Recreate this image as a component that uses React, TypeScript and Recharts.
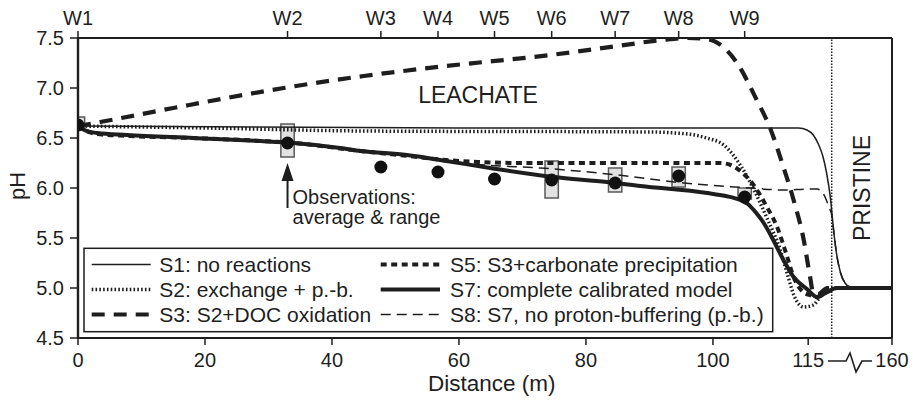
import React from 'react';
import {
  ComposedChart,
  Line,
  Scatter,
  XAxis,
  YAxis,
  ReferenceArea,
  ReferenceLine,
  ReferenceDot,
} from 'recharts';

const FONT = '"Liberation Sans", Arial, Helvetica, sans-serif';
const INK = '#1e1e1e';

// ---------- axes ----------
const distDomain = [0, 128.2];
const distTicks = [0, 20, 40, 60, 80, 100, 115, 128.2];
const distTickLabels = ['0', '20', '40', '60', '80', '100', '115', '160'];
const phTicks = [4.5, 5.0, 5.5, 6.0, 6.5, 7.0, 7.5];
const wellDist = [0, 33, 47.7, 56.7, 65.6, 74.6, 84.6, 94.6, 105];
const wellNames = ['W1', 'W2', 'W3', 'W4', 'W5', 'W6', 'W7', 'W8', 'W9'];
const leachateBoundary = 118.7;

// ---------- observations ----------
const obsDist = [0, 33, 47.7, 56.7, 65.6, 74.6, 84.6, 94.6, 105];
const obsPH = [6.63, 6.45, 6.21, 6.16, 6.09, 6.08, 6.05, 6.12, 5.91];
const rangeDist = [0, 33, 74.6, 84.6, 94.6, 105];
const rangeLow = [6.6, 6.31, 5.9, 5.96, 6.01, 5.89];
const rangeHigh = [6.71, 6.64, 6.27, 6.2, 6.21, 6.0];
const boxHalf = 1.05;

// ---------- model series ----------
const s1Dist = [0, 60, 110, 113.5, 114.8, 115.8, 116.6, 117.3, 117.9, 118.5, 119.0, 119.5, 120.1, 120.8, 121.6, 122.8, 128.2];
const s1PH = [6.62, 6.6, 6.6, 6.6, 6.58, 6.53, 6.44, 6.32, 6.15, 5.9, 5.58, 5.33, 5.15, 5.05, 5.01, 5.0, 5.0];

const s2Dist = [0, 20, 45, 90, 96, 99, 101.7, 104.3, 106.4, 108.5, 110.6, 111.8, 112.8, 114.3, 115.8, 117.2, 118.3, 128.2];
const s2PH = [6.62, 6.6, 6.57, 6.56, 6.54, 6.5, 6.43, 6.23, 5.99, 5.7, 5.38, 5.12, 4.92, 4.81, 4.83, 4.94, 5.0, 5.0];

const s3Dist = [0, 3.5, 15, 32.4, 45, 58, 74.4, 85, 92, 96, 99, 101, 103.8, 106.9, 109, 111.1, 112.7, 114.3, 115.3, 115.8, 116.6, 118, 128.2];
const s3PH = [6.62, 6.66, 6.8, 7.0, 7.12, 7.22, 7.33, 7.42, 7.48, 7.5, 7.49, 7.44, 7.25, 6.88, 6.6, 6.21, 5.88, 5.48, 5.11, 4.95, 4.94, 5.0, 5.0];

const s5Dist = [0, 1, 3, 8, 18, 29, 34, 44.5, 52, 58, 63, 70, 101, 102.8, 104.5, 106.4, 108.5, 110.1, 111.7, 112.7, 114.2, 115.2, 116.4, 118, 119.5, 128.2];
const s5PH = [6.62, 6.58, 6.54, 6.52, 6.5, 6.47, 6.45, 6.37, 6.32, 6.28, 6.26, 6.25, 6.25, 6.23, 6.16, 6.03, 5.81, 5.61, 5.31, 5.11, 4.96, 4.93, 4.91, 4.96, 5.0, 5.0];

const s7Dist = [0, 1, 3, 7.7, 18.2, 28.7, 34, 41.3, 44.5, 51.8, 58, 64.9, 74.9, 83.3, 88.6, 99.1, 102, 104.3, 105.5, 106.7, 108, 109.5, 111.1, 112.7, 114.8, 116.4, 118, 119.5, 128.2];
const s7PH = [6.62, 6.58, 6.55, 6.53, 6.5, 6.47, 6.45, 6.4, 6.37, 6.33, 6.27, 6.2, 6.11, 6.06, 6.02, 5.95, 5.92, 5.88, 5.84, 5.76, 5.65, 5.48, 5.28, 5.11, 4.99, 4.91, 4.96, 5.0, 5.0];

const s8Dist = [0, 1, 3, 7.7, 18.2, 28.7, 34, 41.3, 51.8, 58, 64, 72.8, 85, 95.4, 105.9, 111.1, 115.3, 116.4, 117.4, 118.2, 118.8, 119.0, 119.5, 120.1, 120.8, 121.6, 122.8, 128.2];
const s8PH = [6.62, 6.58, 6.55, 6.53, 6.5, 6.47, 6.45, 6.4, 6.33, 6.27, 6.23, 6.2, 6.13, 6.05, 6.0, 5.98, 5.99, 5.99, 5.94, 5.82, 5.7, 5.58, 5.33, 5.15, 5.05, 5.01, 5.0, 5.0];

const seriesNames = [
  'S1: no reactions',
  'S2: exchange + p.-b.',
  'S3: S2+DOC oxidation',
  'S5: S3+carbonate precipitation',
  'S7: complete calibrated model',
  'S8: S7, no proton-buffering (p.-b.)',
];

const zip = (d: number[], p: number[]) => d.map((x, i) => ({ d: x, ph: p[i] }));

const styles: Record<string, { w: number; dash?: string }> = {
  S1: { w: 1.5 },
  S2: { w: 3.5, dash: '1.6 2.2' },
  S3: { w: 4.2, dash: '13 9' },
  S5: { w: 4, dash: '6 4.5' },
  S7: { w: 4 },
  S8: { w: 1.5, dash: '10 6' },
};

const series = [
  { key: 'S1', data: zip(s1Dist, s1PH), name: seriesNames[0] },
  { key: 'S2', data: zip(s2Dist, s2PH), name: seriesNames[1] },
  { key: 'S3', data: zip(s3Dist, s3PH), name: seriesNames[2] },
  { key: 'S5', data: zip(s5Dist, s5PH), name: seriesNames[3] },
  { key: 'S8', data: zip(s8Dist, s8PH), name: seriesNames[5] },
  { key: 'S7', data: zip(s7Dist, s7PH), name: seriesNames[4] },
];

const obsData = zip(obsDist, obsPH);

const BottomTick = (props: any) => {
  const { x, y, payload } = props;
  const i = distTicks.indexOf(payload.value);
  const label = i >= 0 ? distTickLabels[i] : String(payload.value);
  const isLast = i === distTicks.length - 1;
  return (
    <g>
      <text x={x} y={y} dy="0.71em" textAnchor="middle" fontSize={20} fontFamily={FONT} fill={INK}>
        {label}
      </text>
      {isLast && (
        <path
          d="M -64 0 H -46 L -42 -8 L -36 11 L -30 0 H -20"
          transform={`translate(${x},${y + 8})`}
          fill="none"
          stroke={INK}
          strokeWidth={1.6}
        />
      )}
    </g>
  );
};

const TopTick = (props: any) => {
  const { x, y, payload } = props;
  const i = wellDist.indexOf(payload.value);
  return (
    <text x={x} y={y} textAnchor="middle" fontSize={20} fontFamily={FONT} fill={INK}>
      {i >= 0 ? wellNames[i] : ''}
    </text>
  );
};

const LeftTick = (props: any) => {
  const { x, y, payload } = props;
  return (
    <text x={x} y={y} dy="0.35em" textAnchor="end" fontSize={20} fontFamily={FONT} fill={INK}>
      {Number(payload.value).toFixed(1)}
    </text>
  );
};

const Legend = () => {
  const left = [
    { k: 'S1', n: seriesNames[0] },
    { k: 'S2', n: seriesNames[1] },
    { k: 'S3', n: seriesNames[2] },
  ];
  const right = [
    { k: 'S5', n: seriesNames[3] },
    { k: 'S7', n: seriesNames[4] },
    { k: 'S8', n: seriesNames[5] },
  ];
  const rowY = [264.5, 289.5, 314.5];
  const col = (items: any[], x0: number, x1: number, tx: number) =>
    items.map((it, i) => (
      <g key={it.k}>
        <line
          x1={x0}
          x2={x1}
          y1={rowY[i]}
          y2={rowY[i]}
          stroke={INK}
          strokeWidth={styles[it.k].w}
          strokeDasharray={styles[it.k].dash}
        />
        <text x={tx} y={rowY[i] + 7.3} fontSize={21} fontFamily={FONT} fill={INK}>
          {it.n}
        </text>
      </g>
    ));
  return (
    <svg
      width={913}
      height={400}
      style={{ position: 'absolute', left: 0, top: 0, pointerEvents: 'none' }}
    >
      <rect x={84} y={248.3} width={688.7} height={83.4} fill="#fff" stroke={INK} strokeWidth={1.5} />
      {col(left, 91.7, 150.7, 159.3)}
      {col(right, 380.7, 440, 450)}
    </svg>
  );
};

export default function App() {
  return (
    <div style={{ position: 'absolute', left: 0, top: 0, width: 913, height: 400 }}>
      <ComposedChart width={913} height={400} margin={{ top: 0, right: 0, bottom: 0, left: 0 }}>
        <XAxis
          xAxisId="bottom"
          dataKey="d"
          type="number"
          domain={distDomain}
          ticks={distTicks}
          interval={0}
          allowDataOverflow
          height={62}
          tickSize={7}
          tickMargin={8}
          tick={<BottomTick />}
          axisLine={{ stroke: INK, strokeWidth: 2.2 }}
          tickLine={{ stroke: INK, strokeWidth: 1.5 }}
          label={(p: any) => {
            const vb = p.viewBox || { x: 78, y: 338, width: 814 };
            return (
              <text x={vb.x + 413.7} y={vb.y + 53} textAnchor="middle" fontSize={22.5} fontFamily={FONT} fill={INK}>
                Distance (m)
              </text>
            );
          }}
        />
        <XAxis
          xAxisId="top"
          orientation="top"
          dataKey="d"
          type="number"
          domain={distDomain}
          ticks={wellDist}
          interval={0}
          allowDataOverflow
          height={38}
          tickSize={7}
          tickMargin={6}
          tick={<TopTick />}
          axisLine={{ stroke: INK, strokeWidth: 2 }}
          tickLine={{ stroke: INK, strokeWidth: 1.5 }}
        />
        <YAxis
          yAxisId="left"
          type="number"
          domain={[4.5, 7.5]}
          ticks={phTicks}
          interval={0}
          allowDataOverflow
          width={78}
          tickSize={8}
          tickMargin={6}
          tick={<LeftTick />}
          axisLine={{ stroke: INK, strokeWidth: 2.4 }}
          tickLine={{ stroke: INK, strokeWidth: 1.5 }}
          label={(p: any) => {
            const vb = p.viewBox || { x: 0, y: 38, height: 300 };
            const cx = vb.x + 17.5;
            const cy = vb.y + vb.height / 2 - 2;
            return (
              <text
                x={cx}
                y={cy}
                textAnchor="middle"
                dominantBaseline="central"
                transform={`rotate(-90 ${cx} ${cy})`}
                fontSize={22}
                fontFamily={FONT}
                fill={INK}
              >
                pH
              </text>
            );
          }}
        />
        <YAxis
          yAxisId="right"
          orientation="right"
          type="number"
          domain={[4.5, 7.5]}
          ticks={phTicks}
          interval={0}
          allowDataOverflow
          width={21}
          tickSize={7}
          tick={false}
          axisLine={{ stroke: INK, strokeWidth: 2 }}
          tickLine={{ stroke: INK, strokeWidth: 1.5 }}
        />

        {rangeDist.map((x, i) => (
          <ReferenceArea
            key={'box' + i}
            xAxisId="bottom"
            yAxisId="left"
            x1={x - boxHalf}
            x2={x + boxHalf}
            y1={rangeLow[i]}
            y2={rangeHigh[i]}
            ifOverflow="hidden"
            fill="#e2e2e2"
            fillOpacity={1}
            stroke="#5a5a5a"
            strokeWidth={1.5}
          />
        ))}

        <ReferenceLine
          xAxisId="bottom"
          yAxisId="left"
          x={leachateBoundary}
          stroke={INK}
          strokeWidth={1.5}
          strokeDasharray="1.5 1.5"
        />

        {series.map((s) => (
          <Line
            key={s.key}
            xAxisId="bottom"
            yAxisId="left"
            data={s.data}
            dataKey="ph"
            name={s.name}
            type="monotone"
            stroke={INK}
            strokeWidth={styles[s.key].w}
            strokeDasharray={styles[s.key].dash}
            dot={false}
            activeDot={false}
            isAnimationActive={false}
          />
        ))}

        <Scatter
          xAxisId="bottom"
          yAxisId="left"
          data={obsData}
          dataKey="ph"
          fill="#111"
          isAnimationActive={false}
          shape={(p: any) => <circle cx={p.cx} cy={p.cy} r={6.5} fill="#111" />}
        />

        <ReferenceDot
          xAxisId="bottom"
          yAxisId="left"
          x={63}
          y={6.85}
          ifOverflow="visible"
          shape={(p: any) => (
            <text x={p.cx} y={p.cy} textAnchor="middle" fontSize={23} fontFamily={FONT} fill={INK}>
              LEACHATE
            </text>
          )}
        />
        <ReferenceDot
          xAxisId="bottom"
          yAxisId="left"
          x={123.5}
          y={6.0}
          ifOverflow="visible"
          shape={(p: any) => (
            <text
              x={p.cx}
              y={p.cy}
              textAnchor="middle"
              dominantBaseline="central"
              transform={`rotate(-90 ${p.cx} ${p.cy})`}
              fontSize={23}
              fontFamily={FONT}
              fill={INK}
            >
              PRISTINE
            </text>
          )}
        />
        <ReferenceDot
          xAxisId="bottom"
          yAxisId="left"
          x={33}
          y={6.25}
          ifOverflow="visible"
          shape={(p: any) => (
            <g>
              <line x1={p.cx} x2={p.cx} y1={p.cy + 14} y2={p.cy + 45} stroke={INK} strokeWidth={2} />
              <path
                d={`M ${p.cx} ${p.cy} L ${p.cx - 6} ${p.cy + 18} L ${p.cx + 6} ${p.cy + 18} Z`}
                fill={INK}
              />
              <text x={p.cx + 5} y={p.cy + 41} fontSize={20} fontFamily={FONT} fill={INK}>
                Observations:
              </text>
              <text x={p.cx + 5} y={p.cy + 61} fontSize={20} fontFamily={FONT} fill={INK}>
                average &amp; range
              </text>
            </g>
          )}
        />
      </ComposedChart>
      <Legend />
    </div>
  );
}
